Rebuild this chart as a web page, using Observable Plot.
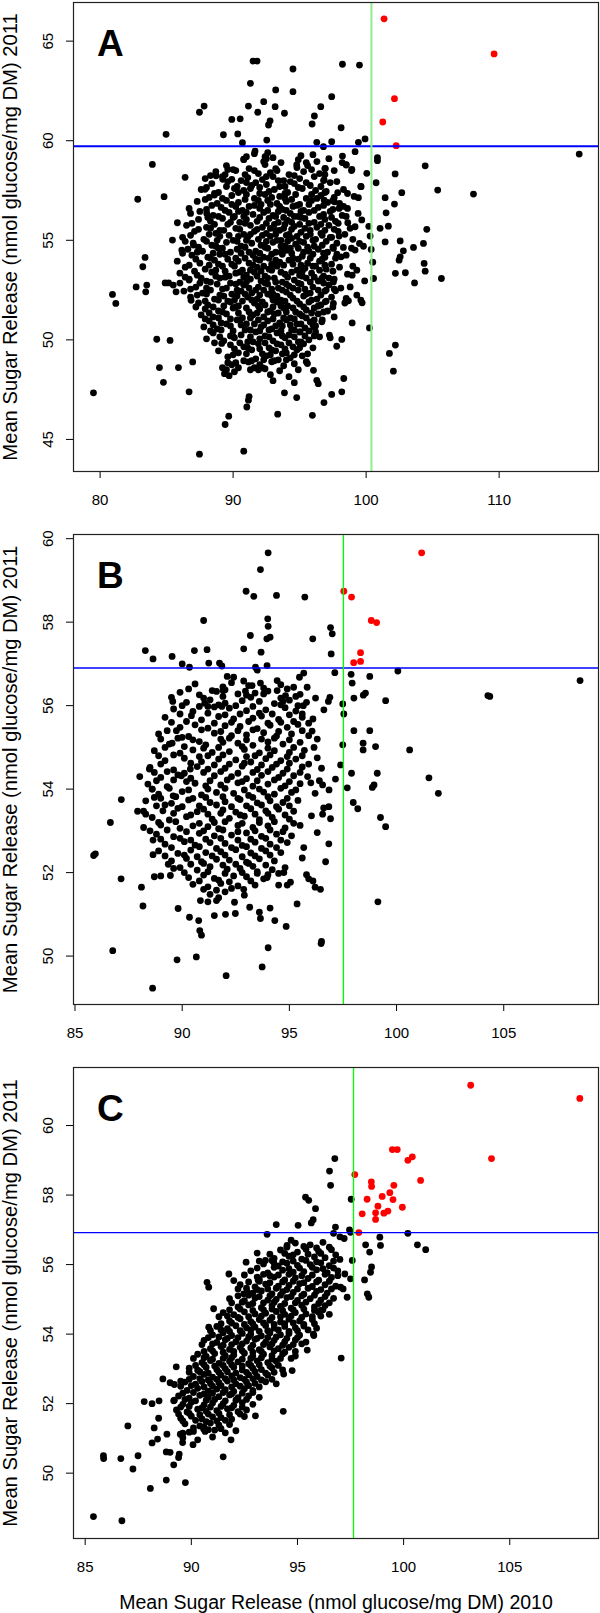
<!DOCTYPE html>
<html>
<head>
<meta charset="utf-8">
<script src="https://cdn.jsdelivr.net/npm/d3@7"></script>
<script src="https://cdn.jsdelivr.net/npm/@observablehq/plot@0.6"></script>
<style>
  body { margin: 0; background: white; }
  #chart { width: 600px; }
  #chart svg { display: block; }
</style>
</head>
<body>
<div id="chart"></div>
<script>
// ---------- Panel A data ----------
const aRed = [[101.35,66.12],[109.62,64.36],[102.13,62.11],[101.25,60.94],[102.26,59.75]];
const aSparse = [[91.5,64.0],[91.8,64.0],[94.5,63.6],[94.5,62.46],[91.3,62.88],[93.2,62.55],[92.3,61.96],[91.15,61.74],[93.16,61.71],[91.85,61.43],[93.86,61.38],[92.78,61.0],[92.66,60.79],[89.9,61.07],[90.53,61.1],[87.82,61.74],[87.47,61.43],[84.96,60.32],[89.27,60.3],[90.35,60.34],[90.7,59.9],[92.53,60.03],[91.65,59.48],[90.8,59.08],[83.93,58.81],[89.6,58.56],[88.72,58.24],[89.22,58.06],[86.39,58.16],[89.9,58.06],[82.83,57.06],[84.81,57.19],[86.69,56.6],[87.89,57.56],[88.6,57.27],[85.81,55.88],[88.02,56.35],[85.44,55.01],[86.14,54.51],[83.38,54.14],[87.02,54.76],[94.78,58.78],
[98.22,63.84],[99.5,63.8],[97.41,62.21],[96.59,61.71],[96.11,61.24],[95.94,60.84],[98.12,60.65],[96.29,59.92],[96.79,59.7],[97.41,59.95],[99.42,59.92],[99.92,60.09],[116.02,59.33],[98.22,59.23],[99.17,59.45],[100.85,59.0],[100.85,59.15],[98.5,58.78],[98.93,58.56],[104.44,58.74],[96.93,58.61],[102.18,58.33],[100.05,58.36],[100.75,57.89],[99.62,57.69],[96.84,58.03],[102.68,57.39],[105.38,57.52],[108.07,57.32],[101.43,57.14],[99.42,57.14],[97.86,57.39],[102.13,56.82],[97.61,56.93],[96.84,57.02],[97.97,56.6],[101.5,56.38],[99.67,56.02],[98.62,55.88],[101.67,55.71],[101.05,55.6],[104.56,55.55],[99.17,55.68],[100.3,55.21],[101.43,54.92],[102.56,54.97],[104.31,54.84],[103.56,54.64],[102.8,54.47],[100.38,54.54],[99.5,54.84],[99.17,54.51],[102.56,54.17],[97.97,55.21],[97.41,55.15],[97.54,54.59],[98.29,54.64],[98.12,54.17],
[102.48,54.0],[104.36,53.84],[104.44,53.45],[102.2,53.34],[102.95,53.37],[103.64,52.86],[105.66,53.08],[100.56,53.08],[99.89,52.96],[98.95,53.25],[99.3,52.25],[99.7,51.86],[98.67,51.96],[98.95,50.85],[100.25,50.6],[101.75,49.32],[102.2,49.74],[102.05,48.43],[98.32,48.06],[98.17,47.39],[97.41,47.26],[96.83,46.85],[95.96,46.21],[96.29,47.97],[96.4,47.8],[95.59,48.81],[96.04,48.47],[97.79,49.68],[98.17,50.02],[97.24,50.24],[96.09,50.65],[96.2,50.4],[96.67,50.91],[95.04,50.4],[97.54,51.83],[96.92,51.91],[97.7,52.46],[98.5,52.08],[97.0,52.5],[97.54,52.91],[96.67,53.08],[98.8,52.66],
[79.5,47.34],[80.93,52.28],[81.18,51.83],[82.71,52.66],[83.51,52.75],[83.43,52.41],[83.21,53.67],[84.89,52.86],[85.15,52.86],[85.71,52.41],[84.26,50.03],[85.26,49.97],[84.46,48.61],[85.89,48.61],[86.96,48.89],[84.76,47.87],[86.69,47.39],[87.47,44.26],[90.8,44.41],[89.4,45.75],[89.67,46.17],[91.03,46.63],[91.15,46.97],[91.2,47.15],[93.35,46.27],[93.86,47.34],[94.78,47.1],[89.14,49.82],[90.02,50.15],[86.84,51.99],[86.69,53.0],
[89.2,48.6],[89.35,48.3],[89.5,48.5],[89.7,48.2],[89.9,48.75],[90.1,48.4],[90.4,48.6],[89.6,48.85],[91.3,48.5],[91.6,48.6],[91.9,48.5],[92.2,48.6],[91.15,48.89],[91.4,48.95]];
const aCore = [[91.6,59.35],[92.4,59.2],[92.6,59.4],[95.1,59.25],[96.0,59.3],
[90.8,59.05],[92.3,58.95],[92.5,59.1],[93.6,58.9],[94.9,59.05],[96.3,58.95],[97.2,59.1],[98.2,58.9],
[89.5,58.75],[91.2,58.6],[92.4,58.8],[94.8,58.65],[95.6,58.75],[96.9,58.6],[98.5,58.8],
[88.7,58.45],[89.4,58.3],[90.2,58.5],[91.9,58.35],[92.8,58.4],[93.3,58.5],[94.2,58.3],[95.3,58.45],[96.5,58.35],[98.9,58.5],
[87.9,58.1],[89.2,58.2],[90.6,58.0],[91.1,58.15],[92.2,58.05],[93.0,58.2],[93.8,58.0],[95.0,58.1],[96.1,58.2],[96.8,58.0],
[88.4,57.85],[90.3,57.7],[91.0,57.9],[91.4,57.75],[92.5,57.8],[93.9,57.7],[94.6,57.85],[95.8,57.75],[97.3,57.9],[99.6,57.7],
[87.6,57.55],[88.9,57.4],[90.8,57.5],[91.3,57.6],[92.7,57.45],[93.1,57.55],[94.1,57.4],[95.2,57.6],[96.2,57.5],[97.0,57.45],[98.3,57.55],
[88.2,57.15],[89.9,57.25],[91.6,57.1],[92.4,57.3],[92.9,57.15],[93.5,57.2],[94.7,57.3],[95.5,57.1],[96.6,57.25],[97.6,57.15],[99.1,57.2],
[87.3,56.95],[88.8,56.85],[89.5,57.0],[90.4,56.9],[92.1,56.8],[92.6,57.0],[93.3,56.85],[94.0,56.95],[95.0,56.8],[95.9,57.0],[97.1,56.9],[98.0,56.85],
[88.0,56.55],[89.1,56.65],[90.7,56.5],[91.2,56.7],[92.0,56.6],[93.7,56.55],[94.5,56.7],[95.3,56.5],[96.4,56.65],[97.5,56.55],[98.6,56.6],
[86.8,56.35],[88.5,56.25],[89.7,56.4],[90.1,56.2],[91.5,56.3],[92.3,56.4],[93.0,56.25],[94.3,56.35],[94.9,56.2],[95.7,56.4],[96.8,56.3],[98.2,56.25],[99.4,56.35],
[87.4,56.05],[88.3,55.95],[89.2,56.1],[90.5,55.9],[91.0,56.05],[91.8,55.95],[92.7,56.1],[93.4,55.9],[94.1,56.0],[95.4,56.1],[96.1,55.9],[96.9,56.05],[97.7,55.95],
[86.5,55.75],[88.0,55.65],[89.6,55.8],[90.2,55.6],[91.3,55.75],[92.2,55.65],[93.1,55.8],[93.8,55.6],[94.6,55.7],[95.0,55.8],[96.3,55.65],[97.2,55.75],[98.8,55.6],[100.2,55.7],
[87.1,55.45],[88.7,55.35],[89.3,55.5],[90.8,55.3],[91.6,55.45],[92.5,55.35],[93.5,55.5],[94.2,55.3],[95.1,55.4],[95.8,55.5],[96.6,55.35],[97.9,55.45],
[86.2,55.15],[87.8,55.05],[89.0,55.2],[90.0,55.0],[91.1,55.15],[91.9,55.05],[92.8,55.2],[93.6,55.0],[94.4,55.1],[95.5,55.2],[96.2,55.05],[97.3,55.15],[99.0,55.05],
[87.0,54.85],[88.4,54.75],[89.5,54.9],[90.6,54.7],[91.4,54.85],[92.1,54.75],[93.0,54.9],[93.9,54.7],[94.7,54.8],[95.3,54.9],[96.7,54.75],[97.8,54.85],[99.8,54.7],
[86.6,54.55],[87.7,54.45],[88.9,54.6],[89.8,54.4],[90.3,54.55],[91.7,54.45],[92.6,54.6],[93.2,54.4],[94.0,54.5],[94.9,54.6],[95.7,54.45],[96.4,54.55],[97.1,54.4],
[86.9,54.25],[88.1,54.15],[89.4,54.3],[90.9,54.1],[91.5,54.25],[92.3,54.15],[93.7,54.3],[94.5,54.1],[95.2,54.2],[96.0,54.3],[96.9,54.15],[98.5,54.25],
[85.8,53.95],[87.5,53.85],[88.6,54.0],[89.9,53.8],[90.4,53.95],[91.2,53.85],[92.0,54.0],[92.9,53.8],[93.5,53.9],[94.2,54.0],[95.6,53.85],[96.5,53.95],[97.4,53.8],[100.5,53.9],
[86.4,53.65],[87.9,53.55],[89.2,53.7],[90.7,53.5],[91.8,53.65],[92.7,53.55],[93.3,53.7],[94.8,53.5],[95.4,53.6],[96.2,53.7],[97.0,53.55],[98.0,53.65],[99.3,53.5],
[86.0,53.35],[87.3,53.25],[88.4,53.4],[89.7,53.2],[90.2,53.35],[91.0,53.25],[91.6,53.4],[92.4,53.2],[93.9,53.3],[94.4,53.4],[95.0,53.25],[95.9,53.35],[96.8,53.2],[98.6,53.3],
[86.7,53.05],[88.0,52.95],[89.0,53.1],[90.5,52.9],[91.3,53.05],[92.1,52.95],[93.1,53.1],[93.7,52.9],[94.6,53.0],[95.5,53.1],[96.4,52.95],[97.6,53.05],
[85.5,52.75],[87.2,52.65],[88.8,52.8],[89.5,52.6],[90.8,52.75],[91.9,52.65],[92.6,52.8],[93.4,52.6],[94.2,52.7],[95.1,52.8],[96.0,52.65],[97.2,52.75],[98.1,52.6],
[86.3,52.45],[87.7,52.35],[88.3,52.5],[89.9,52.3],[90.6,52.45],[91.4,52.35],[92.3,52.5],[93.0,52.3],[94.0,52.4],[94.9,52.5],[95.8,52.35],[96.9,52.45],
[86.8,52.15],[88.6,52.05],[89.3,52.2],[90.1,52.0],[91.1,52.15],[91.8,52.05],[92.9,52.2],[93.6,52.0],[94.5,52.1],[95.3,52.2],[96.3,52.05],[97.4,52.15],[99.6,52.0],
[87.4,51.85],[88.1,51.75],[89.8,51.9],[90.4,51.7],[91.6,51.85],[92.4,51.75],[93.3,51.9],[94.1,51.7],[95.0,51.8],[95.7,51.9],[96.6,51.75],[98.4,51.85],
[87.9,51.55],[88.9,51.45],[90.0,51.6],[91.2,51.4],[92.0,51.55],[92.8,51.45],[93.8,51.6],[94.7,51.4],[95.5,51.5],[96.1,51.6],[97.1,51.45],
[87.6,51.25],[88.5,51.15],[89.5,51.3],[90.7,51.1],[91.5,51.25],[92.3,51.15],[93.1,51.3],[94.3,51.1],[95.2,51.2],[96.4,51.3],[97.6,51.15],
[88.2,50.95],[89.1,50.85],[90.3,51.0],[91.0,50.8],[92.6,50.95],[93.5,50.85],[94.0,51.0],[94.8,50.8],[95.8,50.9],[96.7,51.0],
[87.8,50.65],[88.8,50.55],[89.8,50.7],[91.3,50.5],[92.1,50.65],[92.9,50.55],[93.7,50.7],[94.6,50.5],[95.4,50.6],[96.2,50.7],
[88.5,50.35],[90.6,50.25],[91.7,50.4],[92.4,50.2],[93.3,50.35],[94.2,50.25],[95.0,50.4],[96.1,50.2],
[88.0,50.05],[89.3,49.95],[90.1,50.1],[91.1,49.9],[92.0,50.05],[93.0,49.95],[93.9,50.1],[94.9,49.9],[95.7,50.0],[97.3,50.1],
[89.8,49.75],[90.8,49.65],[91.9,49.8],[92.7,49.6],[93.6,49.75],[94.5,49.65],[95.3,49.8],[96.0,49.6],
[88.9,49.45],[90.4,49.35],[91.4,49.5],[92.2,49.3],[93.2,49.45],[94.0,49.35],[94.8,49.5],[95.6,49.3],
[89.6,49.15],[91.7,49.05],[92.5,49.2],[93.4,49.0],[94.3,49.1],[95.2,49.2],
[90.2,48.85],[92.0,48.75],[92.9,48.9],[93.8,48.7],[94.6,48.8],[95.5,48.9],
[92.4,48.55],[93.5,48.45],[94.9,48.5],[92.8,48.25],[94.2,48.15],[93.0,47.95],[94.6,47.85]];
const aCore2 = [[93.0,59.15],[95.5,58.9],[91.0,59.2],
[90.0,58.55],[91.6,58.5],[93.2,58.6],[95.9,58.55],[97.6,58.5],
[88.3,58.25],[90.9,58.3],[92.5,58.2],[94.6,58.25],[96.9,58.3],
[89.6,57.95],[91.7,57.9],[93.4,58.0],[94.3,57.95],[95.5,57.9],[97.8,57.95],
[88.0,57.65],[89.5,57.7],[90.1,57.6],[92.0,57.65],[93.5,57.7],[94.9,57.65],[96.6,57.7],
[88.6,57.35],[90.4,57.4],[91.0,57.3],[92.0,57.35],[93.9,57.35],[95.9,57.3],[96.9,57.4],[98.6,57.35],
[87.9,57.05],[89.2,57.1],[90.9,57.05],[91.9,57.0],[93.9,57.1],[94.4,57.05],[96.3,57.1],[97.5,57.0],
[88.4,56.75],[89.9,56.8],[90.2,56.7],[91.6,56.75],[92.8,56.8],[93.5,56.7],[94.8,56.75],[95.7,56.8],[96.8,56.75],[98.3,56.7],
[87.5,56.45],[89.4,56.5],[90.4,56.45],[91.0,56.4],[92.6,56.5],[93.4,56.45],[94.0,56.5],[95.1,56.45],[96.1,56.5],[97.3,56.45],
[88.1,56.15],[88.9,56.2],[90.0,56.15],[90.8,56.2],[92.0,56.15],[93.2,56.2],[93.8,56.15],[94.6,56.2],[95.1,56.15],[96.5,56.2],[97.4,56.15],[98.5,56.2],
[86.9,55.85],[88.6,55.8],[89.8,55.9],[90.9,55.85],[92.5,55.85],[93.9,55.8],[94.4,55.9],[95.7,55.85],[96.6,55.8],[97.9,55.85],
[87.4,55.55],[88.3,55.6],[89.0,55.5],[90.5,55.55],[91.8,55.55],[92.8,55.6],[93.2,55.5],[94.4,55.55],[95.4,55.6],[96.9,55.5],[97.6,55.55],
[86.8,55.25],[88.2,55.3],[89.7,55.25],[90.4,55.2],[91.3,55.3],[92.2,55.25],[93.2,55.3],[94.0,55.25],[94.8,55.2],[95.8,55.3],[96.7,55.25],[98.4,55.3],
[86.4,54.95],[88.0,54.95],[88.8,55.0],[90.3,54.95],[91.0,55.0],[92.5,54.95],[93.3,55.0],[94.1,54.95],[95.0,54.95],[96.0,55.0],[97.0,54.95],
[87.4,54.65],[88.7,54.7],[89.2,54.6],[90.9,54.65],[92.4,54.65],[93.6,54.7],[94.3,54.6],[95.6,54.65],[96.1,54.7],[97.5,54.65],[98.9,54.6],
[86.2,54.35],[87.3,54.4],[88.5,54.35],[89.0,54.3],[90.6,54.35],[91.2,54.4],[92.0,54.35],[92.9,54.3],[93.6,54.4],[94.4,54.35],[95.3,54.4],[96.8,54.35],[97.8,54.3],
[87.2,54.05],[88.3,54.1],[89.6,54.05],[90.2,54.1],[91.7,54.05],[92.7,54.1],[93.2,54.0],[94.9,54.05],[95.8,54.1],[96.7,54.05],[97.7,54.1],
[86.7,53.75],[88.2,53.75],[88.9,53.8],[90.1,53.7],[91.5,53.75],[92.3,53.7],[93.8,53.75],[94.5,53.8],[95.1,53.75],[96.0,53.7],[96.9,53.75],[99.0,53.7],
[87.1,53.45],[88.7,53.5],[89.4,53.45],[90.5,53.4],[91.3,53.5],[92.1,53.45],[92.9,53.5],[93.6,53.4],[95.2,53.45],[96.5,53.5],[97.5,53.45],
[86.4,53.15],[87.6,53.1],[88.7,53.2],[89.4,53.15],[90.8,53.15],[91.8,53.2],[92.6,53.1],[94.1,53.15],[95.2,53.2],[96.1,53.15],[97.2,53.1],
[86.0,52.85],[87.5,52.85],[88.3,52.9],[89.8,52.85],[90.2,52.8],[91.0,52.9],[92.4,52.85],[93.2,52.9],[94.0,52.8],[94.9,52.85],[95.8,52.9],[96.8,52.85],
[86.8,52.55],[88.0,52.6],[89.2,52.55],[90.3,52.5],[91.2,52.6],[91.7,52.5],[92.9,52.55],[93.7,52.5],[94.5,52.6],[95.4,52.55],[96.4,52.5],[97.6,52.55],
[87.3,52.25],[88.0,52.3],[89.0,52.25],[90.3,52.2],[90.9,52.3],[92.0,52.25],[92.6,52.3],[93.3,52.2],[94.3,52.25],[95.5,52.3],[96.6,52.25],
[87.9,51.95],[88.9,52.0],[89.6,51.95],[90.7,51.95],[91.4,52.0],[92.2,51.9],[93.0,52.0],[93.9,51.95],[94.8,51.95],[95.9,52.0],[97.0,51.95],
[87.2,51.65],[88.5,51.65],[89.3,51.7],[90.2,51.65],[91.0,51.6],[91.9,51.7],[93.0,51.65],[93.6,51.7],[94.5,51.6],[95.3,51.65],[96.4,51.7],[97.5,51.65],
[88.2,51.35],[89.2,51.4],[90.4,51.35],[91.8,51.35],[92.6,51.4],[93.4,51.35],[94.0,51.4],[95.0,51.3],[95.9,51.35],[96.8,51.4],
[87.9,51.05],[88.9,51.1],[89.8,51.05],[90.5,51.0],[91.3,51.1],[91.9,51.0],[93.0,51.05],[93.8,51.1],[94.6,51.05],[95.5,51.1],[96.1,51.0],
[88.5,50.75],[89.5,50.8],[90.6,50.75],[91.6,50.8],[92.3,50.75],[93.2,50.7],[94.3,50.75],[95.1,50.8],[96.0,50.75],
[88.3,50.45],[89.1,50.5],[90.0,50.45],[90.9,50.5],[92.0,50.45],[92.7,50.5],[93.6,50.45],[94.4,50.5],[95.7,50.45],
[89.0,50.15],[89.8,50.2],[91.3,50.15],[92.7,50.15],[93.7,50.2],[94.6,50.15],[95.4,50.2],[96.5,50.15],
[88.6,49.85],[90.5,49.85],[91.5,49.9],[92.4,49.85],[93.3,49.8],[94.2,49.85],[95.1,49.9],
[90.1,49.55],[91.1,49.6],[92.0,49.55],[92.9,49.5],[93.9,49.55],[95.0,49.6],
[90.0,49.25],[91.0,49.3],[92.8,49.25],[93.7,49.3],[94.6,49.25],
[90.8,48.95],[92.3,49.0],[93.1,48.95],[94.0,49.0]];
const aThreshold = {y: 59.72, x: 100.4};
const aXTicks = [80, 90, 100, 110];
const aYTicks = [45, 50, 55, 60, 65];

// ---------- Panel B data ----------
const bRed = [[101.17,59.66],[97.54,58.74],[97.9,58.6],[98.82,58.04],[99.07,57.99],[98.32,57.27],[98.0,57.03],[98.32,57.06]];
const bSparse = [[94.01,59.66],[93.65,59.26],[92.98,58.74],[93.34,58.62],[94.4,58.64],[91.0,58.04],[93.99,58.08],[94.01,57.9],[93.95,57.6],[94.1,57.64],[93.18,57.68],[92.87,57.36],[93.68,57.28],[88.28,57.32],[88.64,57.12],[89.53,57.18],[90.57,57.32],[91.16,57.34],[90.0,57.0],[90.34,56.92],[91.24,57.02],[91.74,57.02],[91.85,56.95],[93.42,56.92],[93.5,56.85],[93.96,56.96],[92.1,56.7],[92.4,56.68],[92.87,56.59],[95.47,56.68],[89.56,56.1],[90.43,55.76],[91.4,56.36],[91.91,56.36],[91.05,56.06],[91.2,55.98],[91.5,55.97],[91.85,55.98],[93.26,56.48],[93.65,56.54],[92.95,56.35],[93.0,56.25],[93.8,56.28],[94.43,56.6],[94.43,56.36],[94.82,56.24],[94.7,56.1],[89.73,55.4],[90.0,55.24],[89.53,55.1],[90.38,54.48],[89.96,54.32],[88.02,54.3],[88.47,54.48],[88.6,54.0],[89.58,53.84],[87.16,53.75],[89.0,53.78],
[95.72,58.6],[96.92,57.87],[97.0,57.72],[96.09,57.6],[96.95,57.24],[100.06,56.83],[108.56,56.6],[104.26,56.24],[104.35,56.22],[99.49,56.12],[95.67,56.78],[97.12,56.79],[97.88,56.75],[98.75,56.7],[97.93,56.54],[95.83,56.44],[98.55,56.3],[98.45,56.25],[98.01,56.18],[96.22,56.18],[96.89,56.2],[96.82,56.1],[96.61,55.9],[97.49,56.04],[97.54,55.8],[95.65,56.0],[95.6,55.8],[98.01,55.4],[98.75,55.4],[97.49,55.06],[98.44,55.1],[98.44,54.94],[99.02,55.02],[100.61,54.94],[96.06,55.39],[96.3,55.2],[96.15,55.0],[97.39,54.58],[97.9,54.38],[99.1,54.38],[101.51,54.27],[101.95,53.9],[98.87,54.04],[98.95,54.1],[97.7,54.03],[97.15,54.24],[96.85,53.98],[96.55,54.1],
[95.9,54.6],[96.3,54.75],[96.5,54.5],[95.85,54.3],[96.0,54.15],[96.4,54.2],[96.2,53.9],
[99.25,53.32],[99.49,53.1],[99.13,51.3],[96.48,50.3],[96.5,50.35],[97.98,53.68],[98.19,53.53],[96.84,53.58],[96.92,53.29],[96.6,53.55],[96.55,53.4],[96.03,53.36],[96.3,52.96],[96.84,52.69],[96.69,52.26],[95.67,52.6],[95.6,52.35],[95.8,51.95],[95.9,51.85],[96.1,51.8],[96.2,51.65],[96.45,51.6],
[85.87,52.41],[85.95,52.45],[86.65,53.2],[87.15,51.85],[86.76,50.13],[88.62,49.23],[88.1,51.65],[88.17,51.2],[89.76,49.91],[90.66,49.98],[92.05,49.53],[93.73,49.74],[94.01,50.2],[94.85,50.71],[89.81,51.14],[90.34,50.93],[90.77,50.85],[90.82,50.61],[90.9,50.5],[91.5,50.97],[92.02,51.0],[92.48,51.02],[93.15,51.17],[93.6,51.05],[93.65,50.9],[94.32,50.85],[94.1,51.15],[95.36,51.25],[87.92,53.47],[88.2,53.47],[88.64,52.78],[88.64,52.43],[88.7,51.9],[89.0,51.92],[89.45,51.93],[89.35,52.2],[89.6,52.1],[90.85,51.33],[91.2,51.3],[91.6,51.33],[91.7,51.4],[92.87,51.6],[92.44,51.29],[93.96,51.88],[93.5,51.98],[94.0,51.95],[94.74,52.0],[95.05,51.77],[94.5,51.7],[94.9,51.7]];
const bCore = [[90.6,56.52],[91.9,56.45],[92.3,56.55],[93.1,56.48],[94.6,56.5],[95.2,56.44],
[89.9,56.32],[90.8,56.26],[91.6,56.34],[92.6,56.28],[93.4,56.3],[94.0,56.35],[95.5,56.27],
[90.2,56.08],[91.3,56.14],[92.0,56.06],[92.8,56.12],[93.6,56.1],[94.3,56.05],[95.0,56.13],[95.8,56.08],
[89.6,55.92],[90.5,55.86],[92.2,55.94],[93.0,55.88],[93.9,55.9],[94.8,55.95],[95.3,55.87],
[89.2,55.72],[90.9,55.66],[91.7,55.74],[92.4,55.68],[93.3,55.7],[93.7,55.75],[94.5,55.67],[95.6,55.72],[96.1,55.68],
[89.9,55.48],[90.6,55.54],[91.2,55.46],[92.0,55.52],[92.7,55.5],[93.5,55.45],[94.1,55.53],[94.9,55.48],[95.4,55.55],
[88.9,55.32],[90.3,55.26],[91.5,55.34],[92.3,55.28],[93.0,55.3],[93.8,55.35],[94.4,55.27],[95.1,55.32],[95.9,55.28],
[89.4,55.08],[90.8,55.14],[91.1,55.06],[91.9,55.12],[92.6,55.1],[93.3,55.05],[94.0,55.13],[94.7,55.08],[95.5,55.12],
[88.7,54.92],[89.9,54.86],[90.5,54.94],[91.4,54.88],[92.2,54.9],[92.9,54.95],[93.6,54.87],[94.3,54.92],[95.0,54.88],[95.7,54.93],
[89.2,54.68],[90.1,54.74],[90.9,54.66],[91.7,54.72],[92.5,54.7],[93.2,54.65],[93.9,54.73],[94.6,54.68],[95.3,54.72],
[88.5,54.52],[89.6,54.46],[90.7,54.54],[91.2,54.48],[92.0,54.5],[92.8,54.55],[93.5,54.47],[94.2,54.52],[94.9,54.48],[95.6,54.53],
[89.0,54.28],[89.8,54.34],[90.4,54.26],[91.5,54.32],[92.3,54.3],[93.0,54.25],[93.7,54.33],[94.5,54.28],[95.2,54.32],
[88.4,54.12],[89.3,54.06],[90.6,54.14],[91.1,54.08],[91.8,54.1],[92.6,54.15],[93.3,54.07],[94.0,54.12],[94.8,54.08],[95.5,54.13],
[88.9,53.88],[90.0,53.94],[90.9,53.86],[91.6,53.92],[92.4,53.9],[93.1,53.85],[93.8,53.93],[94.3,53.88],[95.1,53.92],
[88.3,53.72],[89.5,53.66],[90.3,53.74],[91.3,53.68],[92.0,53.7],[92.7,53.75],[93.5,53.67],[94.1,53.72],[94.7,53.68],[95.4,53.73],
[89.1,53.48],[89.8,53.54],[90.7,53.46],[91.0,53.52],[91.9,53.5],[92.5,53.45],[93.2,53.53],[93.9,53.48],[94.5,53.52],[95.2,53.47],
[88.6,53.32],[89.4,53.26],[90.2,53.34],[91.4,53.28],[92.2,53.3],[92.9,53.35],[93.6,53.27],[94.2,53.32],[95.0,53.28],
[88.2,53.08],[89.0,53.14],[89.9,53.06],[90.5,53.12],[91.2,53.1],[91.7,53.05],[92.6,53.13],[93.3,53.08],[94.0,53.12],[94.8,53.07],[95.5,53.13],
[88.8,52.92],[89.6,52.86],[90.8,52.94],[91.5,52.88],[92.3,52.9],[93.0,52.95],[93.7,52.87],[94.4,52.92],[95.1,52.88],
[89.2,52.68],[90.1,52.74],[90.6,52.66],[91.3,52.72],[92.0,52.7],[92.8,52.65],[93.4,52.73],[94.1,52.68],[94.9,52.72],
[88.9,52.52],[89.8,52.46],[90.4,52.54],[91.1,52.48],[91.8,52.5],[92.5,52.55],[93.2,52.47],[93.9,52.52],[94.6,52.48],
[89.5,52.28],[90.2,52.34],[90.9,52.26],[91.6,52.32],[92.2,52.3],[93.0,52.25],[93.6,52.33],[94.3,52.28],
[89.9,52.12],[90.7,52.06],[91.3,52.14],[92.1,52.08],[92.7,52.1],[93.3,52.15],[94.2,52.07],[94.8,52.12],
[90.3,51.88],[91.0,51.94],[91.5,51.86],[92.4,51.92],[93.0,51.9],[93.8,51.85],
[90.5,51.72],[91.2,51.66],[91.8,51.74],[92.6,51.68],[93.4,51.7],
[91.3,51.48],[92.0,51.54],[92.9,51.46]];
const bCore2 = [[90.3,56.4],[92.0,56.38],[93.8,56.42],[94.9,56.4],
[89.5,56.2],[91.0,56.18],[91.9,56.22],[93.2,56.2],[94.6,56.18],[95.3,56.22],
[90.0,56.0],[90.8,55.98],[91.7,56.02],[92.5,56.0],[93.3,55.98],[94.6,56.02],[95.4,56.0],
[89.9,55.8],[91.2,55.82],[92.0,55.78],[92.7,55.8],[93.6,55.82],[94.2,55.8],[95.0,55.78],
[89.5,55.6],[90.2,55.62],[91.5,55.58],[92.3,55.6],[93.1,55.62],[94.0,55.58],[94.6,55.6],[95.2,55.62],[95.9,55.58],
[89.3,55.4],[90.9,55.42],[91.8,55.38],[92.6,55.4],[93.3,55.42],[94.5,55.38],[95.6,55.4],
[89.0,55.2],[89.8,55.22],[90.5,55.18],[91.8,55.2],[92.2,55.22],[93.0,55.18],[93.7,55.2],[94.3,55.22],[95.0,55.18],
[89.2,55.0],[90.1,55.02],[91.0,54.98],[91.7,55.0],[92.8,55.02],[94.0,54.98],[95.2,55.0],
[88.9,54.8],[89.6,54.82],[90.8,54.78],[91.2,54.8],[91.9,54.82],[93.0,54.78],[93.4,54.8],[94.1,54.82],[94.9,54.78],[95.6,54.8],
[89.0,54.6],[90.4,54.62],[91.5,54.58],[92.2,54.6],[92.9,54.62],[93.7,54.58],[94.4,54.6],[95.0,54.62],
[88.7,54.4],[89.3,54.42],[90.1,54.38],[91.0,54.4],[91.8,54.42],[92.6,54.38],[93.3,54.4],[94.0,54.42],[94.7,54.38],[95.5,54.4],
[88.8,54.2],[89.6,54.22],[90.2,54.18],[91.3,54.2],[92.1,54.22],[92.8,54.18],[93.5,54.2],[94.3,54.22],[95.0,54.18],
[88.6,54.0],[89.4,54.02],[90.3,53.98],[91.2,54.0],[92.0,54.02],[92.9,53.98],[93.6,54.0],[94.6,54.02],[95.3,53.98],
[88.7,53.8],[89.7,53.82],[90.5,53.78],[91.1,53.8],[91.9,53.82],[92.6,53.78],[93.3,53.8],[94.0,53.82],[94.9,53.78],
[88.8,53.6],[89.2,53.62],[90.0,53.58],[90.8,53.6],[91.6,53.62],[92.3,53.58],[93.0,53.6],[93.7,53.62],[94.4,53.58],[95.0,53.6],
[88.3,53.4],[89.6,53.42],[90.4,53.38],[91.2,53.4],[91.8,53.42],[92.7,53.38],[93.4,53.4],[94.0,53.42],[94.8,53.38],
[88.9,53.2],[89.7,53.22],[90.8,53.18],[91.5,53.2],[92.0,53.22],[92.8,53.18],[93.6,53.2],[94.3,53.22],[95.2,53.18],
[88.5,53.0],[89.3,53.02],[90.2,52.98],[91.0,53.0],[91.9,53.02],[92.6,52.98],[93.4,53.0],[94.1,53.02],[94.7,52.98],
[89.0,52.8],[89.9,52.82],[90.4,52.78],[91.1,52.8],[91.8,52.82],[92.6,52.78],[93.2,52.8],[93.9,52.82],[94.6,52.78],
[89.5,52.6],[90.8,52.62],[91.6,52.58],[92.3,52.6],[93.0,52.62],[93.7,52.58],[94.4,52.6],
[89.2,52.4],[90.1,52.42],[90.7,52.38],[91.4,52.4],[92.0,52.42],[92.8,52.38],[93.4,52.4],[94.1,52.42],
[90.4,52.2],[91.0,52.22],[91.9,52.18],[92.5,52.2],[93.1,52.22],[93.9,52.18],
[90.1,52.0],[91.2,52.02],[92.0,51.98],[92.8,52.0],[93.5,52.02],[94.5,51.98],
[90.8,51.8],[91.7,51.82],[92.2,51.78],[93.2,51.8],
[91.0,51.6],[91.6,51.58],[92.3,51.62]];
const bThreshold = {y: 56.9, x: 97.52};
const bXTicks = [85, 90, 95, 100, 105];
const bYTicks = [50, 52, 54, 56, 58, 60];

// ---------- Panel C data ----------
const cRed = [[103.16,61.16],[108.3,60.78],[104.14,59.05],[99.47,59.31],[99.7,59.31],[100.2,59.0],[100.41,59.1],[97.7,58.59],[100.8,58.42],[98.48,58.38],[98.49,58.25],[99.54,58.28],[99.35,58.07],[98.99,57.96],[98.28,57.88],[99.5,57.87],[98.79,57.68],[99.94,57.65],[98.05,57.46],[98.68,57.49],[99.07,57.48],[99.26,57.54],[98.68,57.3],[97.89,56.92]];
const cSparse = [[96.76,59.05],[96.51,58.69],[96.56,58.28],[97.53,57.88],[95.38,57.94],[95.53,57.85],[95.85,57.61],[95.74,57.29],[95.65,57.2],[96.79,57.08],[97.5,56.93],[97.45,57.0],[94.0,57.15],[96.7,56.9],[97.0,56.8],[97.2,56.75],[100.2,56.9],[98.88,56.79],[98.91,56.55],[98.21,56.57],[100.65,56.57],[101.04,56.43],[98.4,56.36],[97.58,56.12],[98.49,55.93],[98.44,55.78],[98.16,55.56],[97.23,55.73],[97.5,55.59],[98.29,55.16],[98.36,55.06],[97.03,55.35],[97.15,55.3],[97.34,55.06],[96.08,54.68],[95.77,53.96],[95.75,54.0],
[93.57,56.87],[95.03,57.13],[93.1,56.33],[93.49,56.12],[92.58,56.07],[93.88,56.07],[91.77,55.73],[92.0,55.54],[90.74,55.49],[90.82,55.35],[93.1,55.64],[93.15,55.55],[92.47,55.16],[92.65,55.2],[91.05,54.73],[90.82,54.2],[94.51,56.55],[94.7,56.7],
[85.39,48.75],[86.73,48.63],[85.86,50.5],[85.87,50.42],[86.68,50.42],[87.49,50.5],[87.25,50.12],[88.07,49.56],[88.82,49.8],[89.72,49.73],[89.17,50.24],[89.4,50.45],[89.43,50.55],[88.82,50.61],[89.0,50.6],[91.5,50.47],[88.15,50.87],[88.41,50.98],[89.59,50.88],[90.08,50.82],[87.01,51.36],[88.25,51.3],[88.46,51.58],[87.78,52.06],[88.15,52.0],[88.48,52.08],[88.66,52.71],[89.17,52.08],[89.29,53.06],[89.0,52.6],[89.2,52.55],[89.5,52.65],[89.48,51.12],[89.6,51.15],[88.85,51.12],[91.87,50.96],[93.02,51.65],[94.33,51.78],[90.58,51.27],[90.65,51.2],[90.8,51.25],[90.1,51.2],[95.46,53.54],[97.06,53.31],[94.75,52.95],[94.35,52.85],[94.7,53.3],[94.9,53.5]];
const cCore = [[94.9,56.62],[95.6,56.57],[96.2,56.64],
[94.2,56.42],[95.0,56.36],[95.4,56.44],[96.0,56.38],[96.6,56.43],
[93.9,56.18],[94.6,56.24],[95.2,56.16],[95.8,56.22],[96.3,56.2],[97.0,56.15],
[93.4,56.02],[94.1,55.96],[94.5,56.04],[95.0,55.98],[95.6,56.0],[96.1,56.05],[96.5,55.97],
[92.8,55.82],[93.6,55.76],[94.3,55.84],[94.8,55.78],[95.3,55.8],[95.9,55.85],[96.4,55.77],[96.9,55.82],
[93.2,55.58],[93.9,55.64],[94.4,55.56],[94.9,55.62],[95.5,55.6],[96.0,55.55],[96.6,55.63],
[92.3,55.42],[93.0,55.36],[93.5,55.44],[94.1,55.38],[94.6,55.4],[95.1,55.45],[95.7,55.37],[96.3,55.42],[96.8,55.38],
[92.9,55.18],[93.3,55.24],[93.8,55.16],[94.3,55.22],[94.8,55.2],[95.3,55.15],[95.9,55.23],[96.4,55.18],
[91.8,55.02],[92.5,54.96],[93.0,55.04],[93.6,54.98],[94.0,55.0],[94.5,55.05],[95.0,54.97],[95.6,55.02],[96.1,54.98],[96.7,55.03],
[92.2,54.78],[92.7,54.84],[93.3,54.76],[93.8,54.82],[94.2,54.8],[94.7,54.75],[95.2,54.83],[95.8,54.78],[96.3,54.82],
[91.5,54.62],[92.0,54.56],[92.5,54.64],[93.0,54.58],[93.5,54.6],[94.0,54.65],[94.4,54.57],[94.9,54.62],[95.4,54.58],[96.0,54.63],[96.5,54.57],
[91.8,54.38],[92.3,54.44],[92.8,54.36],[93.2,54.42],[93.7,54.4],[94.2,54.35],[94.6,54.43],[95.1,54.38],[95.7,54.42],
[91.2,54.22],[91.7,54.16],[92.1,54.24],[92.6,54.18],[93.0,54.2],[93.5,54.25],[93.9,54.17],[94.4,54.22],[94.9,54.18],[95.3,54.23],[95.9,54.17],
[91.0,53.98],[91.5,54.04],[91.9,53.96],[92.4,54.02],[92.8,54.0],[93.3,53.95],[93.7,54.03],[94.2,53.98],[94.6,54.02],[95.1,53.97],
[90.6,53.82],[91.2,53.76],[91.6,53.84],[92.1,53.78],[92.6,53.8],[93.0,53.85],[93.5,53.77],[93.9,53.82],[94.4,53.78],[94.9,53.83],[95.4,53.77],
[90.9,53.58],[91.4,53.64],[91.8,53.56],[92.3,53.62],[92.8,53.6],[93.2,53.55],[93.7,53.63],[94.1,53.58],[94.6,53.62],
[90.3,53.42],[90.7,53.36],[91.1,53.44],[91.6,53.38],[92.0,53.4],[92.5,53.45],[92.9,53.37],[93.4,53.42],[93.8,53.38],[94.3,53.43],[94.9,53.37],
[90.5,53.18],[90.9,53.24],[91.3,53.16],[91.8,53.22],[92.2,53.2],[92.7,53.15],[93.1,53.23],[93.6,53.18],[94.0,53.22],
[89.9,53.02],[90.3,52.96],[90.7,53.04],[91.2,52.98],[91.6,53.0],[92.0,53.05],[92.4,52.97],[92.9,53.02],[93.3,52.98],[93.8,53.03],[94.3,52.97],
[90.1,52.78],[90.6,52.84],[91.0,52.76],[91.4,52.82],[91.9,52.8],[92.3,52.75],[92.7,52.83],[93.1,52.78],[93.6,52.82],
[89.7,52.62],[90.2,52.56],[90.5,52.64],[90.9,52.58],[91.3,52.6],[91.7,52.65],[92.1,52.57],[92.6,52.62],[93.0,52.58],[93.5,52.63],[94.0,52.57],
[89.8,52.38],[90.3,52.44],[90.8,52.36],[91.2,52.42],[91.6,52.4],[92.0,52.35],[92.5,52.43],[92.9,52.38],
[89.4,52.22],[89.9,52.16],[90.4,52.24],[90.8,52.18],[91.3,52.2],[91.8,52.25],[92.2,52.17],[92.7,52.22],[93.2,52.18],
[89.6,51.98],[90.0,52.04],[90.6,51.96],[91.0,52.02],[91.5,52.0],[92.0,51.95],[92.4,52.03],[92.9,51.98],
[89.3,51.82],[89.8,51.76],[90.3,51.84],[90.7,51.78],[91.2,51.8],[91.7,51.85],[92.2,51.77],[92.6,51.82],
[89.5,51.58],[90.0,51.64],[90.5,51.56],[91.0,51.62],[91.4,51.6],[91.9,51.55],[92.5,51.63],
[89.7,51.42],[90.4,51.36],[90.9,51.44],[91.3,51.38],[91.8,51.4],
[89.9,51.18],[91.1,51.24],[91.6,51.16],[92.1,51.22],
[89.6,51.02],[90.3,50.96],[91.0,51.04]];
const cCore2 = [[94.5,56.5],[95.3,56.52],[95.9,56.48],[96.5,56.5],
[93.7,56.3],[94.4,56.32],[94.8,56.28],[95.5,56.3],[96.1,56.32],[96.8,56.28],
[93.2,56.1],[93.8,56.12],[94.3,56.08],[94.8,56.1],[95.4,56.12],[95.9,56.08],[96.7,56.1],
[93.1,55.9],[93.9,55.92],[94.6,55.88],[95.1,55.9],[95.7,55.92],[96.2,55.88],[96.7,55.9],
[92.5,55.7],[93.4,55.72],[93.7,55.68],[94.1,55.7],[94.6,55.72],[95.2,55.68],[95.7,55.7],[96.3,55.72],[96.9,55.68],
[92.7,55.5],[93.2,55.52],[93.7,55.48],[94.3,55.5],[94.8,55.52],[95.3,55.48],[95.9,55.5],[96.5,55.52],
[92.2,55.3],[92.6,55.32],[93.1,55.28],[93.6,55.3],[94.0,55.32],[94.5,55.28],[95.0,55.3],[95.5,55.32],[96.1,55.28],[96.6,55.3],
[92.2,55.1],[92.7,55.12],[93.2,55.08],[93.7,55.1],[94.2,55.12],[94.7,55.08],[95.2,55.1],[95.8,55.12],[96.3,55.08],
[91.9,54.9],[92.4,54.92],[92.9,54.88],[93.4,54.9],[93.9,54.92],[94.4,54.88],[94.9,54.9],[95.4,54.92],[96.0,54.88],[96.5,54.9],
[91.8,54.7],[92.3,54.72],[92.9,54.68],[93.4,54.7],[93.8,54.72],[94.3,54.68],[94.8,54.7],[95.3,54.72],[95.8,54.68],[96.2,54.7],
[91.3,54.5],[91.7,54.52],[92.2,54.48],[92.7,54.5],[93.3,54.52],[93.8,54.48],[94.2,54.5],[94.7,54.52],[95.2,54.48],[95.7,54.5],[96.1,54.52],
[91.4,54.3],[91.9,54.32],[92.5,54.28],[92.9,54.3],[93.4,54.32],[93.9,54.28],[94.4,54.3],[94.8,54.32],[95.3,54.28],[95.8,54.3],
[90.9,54.1],[91.4,54.12],[91.8,54.08],[92.3,54.1],[92.8,54.12],[93.2,54.08],[93.6,54.1],[94.1,54.12],[94.6,54.08],[95.0,54.1],[95.5,54.12],
[90.8,53.9],[91.3,53.92],[91.7,53.88],[92.2,53.9],[92.7,53.92],[93.1,53.88],[93.6,53.9],[94.0,53.92],[94.5,53.88],[95.0,53.9],
[90.5,53.7],[91.0,53.72],[91.5,53.68],[91.9,53.7],[92.4,53.72],[92.9,53.68],[93.4,53.7],[93.8,53.72],[94.3,53.68],[94.8,53.7],[95.2,53.72],
[90.6,53.5],[91.0,53.52],[91.5,53.48],[92.0,53.5],[92.4,53.52],[92.9,53.48],[93.3,53.5],[93.9,53.52],[94.4,53.48],
[90.1,53.3],[90.6,53.32],[91.0,53.28],[91.5,53.3],[91.9,53.32],[92.4,53.28],[92.8,53.3],[93.3,53.32],[93.8,53.28],[94.2,53.3],
[90.2,53.1],[90.6,53.12],[91.1,53.08],[91.5,53.1],[91.9,53.12],[92.4,53.08],[92.8,53.1],[93.2,53.12],[93.7,53.08],[94.1,53.1],
[89.9,52.9],[90.4,52.92],[90.8,52.88],[91.3,52.9],[91.7,52.92],[92.1,52.88],[92.6,52.9],[93.0,52.92],[93.5,52.88],[93.9,52.9],
[89.9,52.7],[90.4,52.72],[90.8,52.68],[91.2,52.7],[91.6,52.72],[92.0,52.68],[92.5,52.7],[92.9,52.72],[93.3,52.68],[93.8,52.7],
[89.5,52.5],[90.0,52.52],[90.6,52.48],[91.0,52.5],[91.4,52.52],[91.9,52.48],[92.3,52.5],[92.7,52.52],[93.2,52.48],
[89.6,52.3],[90.1,52.32],[90.6,52.28],[91.0,52.3],[91.5,52.32],[91.9,52.28],[92.4,52.3],[92.9,52.32],
[89.2,52.1],[89.7,52.12],[90.2,52.08],[90.7,52.1],[91.1,52.12],[91.6,52.08],[92.1,52.1],[92.6,52.12],
[89.5,51.9],[89.9,51.92],[90.5,51.88],[90.9,51.9],[91.4,51.92],[91.9,51.88],[92.4,51.9],
[89.4,51.7],[89.9,51.72],[90.4,51.68],[90.8,51.7],[91.3,51.72],[91.8,51.68],[92.3,51.7],
[89.6,51.5],[90.2,51.52],[90.7,51.48],[91.2,51.5],[91.6,51.52],
[90.1,51.3],[90.6,51.32],[91.4,51.28]];
const cThreshold = {y: 56.92, x: 97.64};
const cXTicks = [85, 90, 95, 100, 105];
const cYTicks = [50, 52, 54, 56, 58, 60];

const yLabel = "Mean Sugar Release (nmol glucose/mg DM) 2011";
const xLabel = "Mean Sugar Release (nmol glucose/mg DM) 2010";

const FONT = "'Liberation Sans', Arial, Helvetica, sans-serif";

function panel(o) {
  const marks = [
    Plot.axisX({ticks: o.xTicks, tickSize: 7, tickPadding: 16, label: null, fontSize: 15}),
    Plot.axisY({ticks: o.yTicks, tickSize: 7, tickPadding: 13.5, tickRotate: -90, label: null, fontSize: 15}),
    Plot.dot(o.black, {x: d => d[0], y: d => d[1], r: 3.4, fill: "black", stroke: "none"}),
    Plot.dot(o.red, {x: d => d[0], y: d => d[1], r: 3.4, fill: "#ff0000", stroke: "none"}),
    Plot.ruleY([o.thr.y], {stroke: "#0000ff", strokeWidth: o.blueW}),
    Plot.ruleX([o.thr.x], {stroke: o.green, strokeWidth: o.greenW}),
    Plot.frame({stroke: "#222", strokeWidth: 1.2}),
    Plot.text([o.letter], {text: d => d, frameAnchor: "top-left", dx: 23.5, dy: 27, textAnchor: "start", lineAnchor: "top", fontSize: 37, fontWeight: "bold", fill: "black"}),
    Plot.text([yLabel], {text: d => d, frameAnchor: "left", textAnchor: "middle", lineAnchor: "middle", rotate: -90, dx: -63, fontSize: 20.2, fill: "black"})
  ];
  if (o.xLabel) {
    marks.push(Plot.text([o.xLabel], {text: d => d, frameAnchor: "bottom", textAnchor: "middle", dy: 70, lineAnchor: "bottom", fontSize: 19.5, fill: "black"}));
  }
  return Plot.plot({
    width: 600,
    height: o.h,
    marginLeft: 73,
    marginRight: 2,
    marginTop: o.mt,
    marginBottom: o.mb,
    style: {fontFamily: FONT, color: "black", background: "white"},
    x: {domain: o.xd},
    y: {domain: o.yd},
    marks
  });
}

const chart = document.getElementById("chart");
chart.append(panel({
  black: aSparse.concat(aCore, aCore2), red: aRed, thr: aThreshold,
  xd: [78.0, 117.47], yd: [43.39, 66.94], xTicks: aXTicks, yTicks: aYTicks,
  letter: "A", h: 520, mt: 2, mb: 49, blueW: 2, green: "#90ee90", greenW: 2
}));
chart.append(panel({
  black: bSparse.concat(bCore, bCore2), red: bRed, thr: bThreshold,
  xd: [84.93, 109.42], yd: [48.84, 60.10], xTicks: bXTicks, yTicks: bYTicks,
  letter: "B", h: 530, mt: 14, mb: 46, blueW: 1.4, green: "#00ff00", greenW: 1.3
}));
chart.append(panel({
  black: cSparse.concat(cCore, cCore2), red: cRed, thr: cThreshold,
  xd: [84.45, 109.18], yd: [48.12, 61.67], xTicks: cXTicks, yTicks: cYTicks,
  letter: "C", h: 563, mt: 17, mb: 75, blueW: 1.4, green: "#00ff00", greenW: 1.3,
  xLabel: xLabel
}));
</script>
</body>
</html>
